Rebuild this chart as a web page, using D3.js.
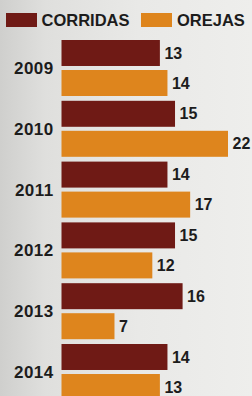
<!DOCTYPE html>
<html>
<head>
<meta charset="utf-8">
<script src="https://cdn.jsdelivr.net/npm/d3@7"></script>
<style>
  html, body { margin: 0; padding: 0; background: #e8e8e6; }
  svg { display: block; }
  text { font-family: "Liberation Sans", Arial, sans-serif; font-weight: bold; fill: #1c1c1c; }
</style>
</head>
<body>
<script>
// ---- data ----
const years = ["2009", "2010", "2011", "2012", "2013", "2014"];
const seriesNames = ["CORRIDAS", "OREJAS"];
const corridas = [13, 15, 14, 15, 16, 14];
const orejas = [14, 22, 17, 12, 7, 13];
const seriesColors = ["#6f1a15", "#de851d"];

const W = 252, H = 396;
const svg = d3.select("body").append("svg").attr("width", W).attr("height", H);

// background
const defs = svg.append("defs");
const grad = defs.append("linearGradient").attr("id", "bg").attr("x1", "0").attr("x2", "1").attr("y1", "0").attr("y2", "0");
[["0%", "#cfcfcd"], ["18%", "#dfdfdd"], ["55%", "#e9e9e7"], ["100%", "#eeeeec"]]
  .forEach(([o, c]) => grad.append("stop").attr("offset", o).attr("stop-color", c));
svg.append("rect").attr("width", W).attr("height", H).attr("fill", "url(#bg)");

const rows = years.map((y, i) => ({ year: y, values: [corridas[i], orejas[i]] }));

const x = d3.scaleLinear().domain([0, 22]).range([61.5, 228]);
const yGroup = d3.scaleBand().domain(years).range([40, 40 + 60.8 * years.length]).padding(0);
const ySeries = d3.scaleBand().domain(seriesNames).range([0, 56]).paddingInner(0.134).paddingOuter(0);

// legend
const legend = svg.append("g");
const legendPos = [{ sx: 6, tx: 41.5 }, { sx: 141, tx: 177 }];
seriesNames.forEach((s, i) => {
  legend.append("rect").attr("x", legendPos[i].sx).attr("y", 13).attr("width", 31).attr("height", 14)
    .attr("fill", seriesColors[i]);
  legend.append("text").attr("x", legendPos[i].tx).attr("y", 25.8)
    .attr("font-size", 16.5).text(s);
});

// groups
const g = svg.selectAll("g.year").data(rows).enter().append("g")
  .attr("class", "year")
  .attr("transform", d => `translate(0,${yGroup(d.year)})`);

g.append("text")
  .attr("x", 53.5)
  .attr("y", 28 + 6)
  .attr("text-anchor", "end")
  .attr("font-size", 17)
  .style("letter-spacing", "0.4px")
  .text(d => d.year);

const bars = g.selectAll("g.bar").data(d => d.values.map((v, i) => ({ v, s: seriesNames[i], i })))
  .enter().append("g").attr("class", "bar");

bars.append("rect")
  .attr("x", x(0))
  .attr("y", d => ySeries(d.s))
  .attr("width", d => x(d.v) - x(0))
  .attr("height", ySeries.bandwidth())
  .attr("fill", d => seriesColors[d.i]);

bars.append("text")
  .attr("x", d => x(d.v) + 4.5)
  .attr("y", d => ySeries(d.s) + ySeries.bandwidth() / 2 + 5.6)
  .attr("font-size", 16)
  .text(d => d.v);
</script>
</body>
</html>
